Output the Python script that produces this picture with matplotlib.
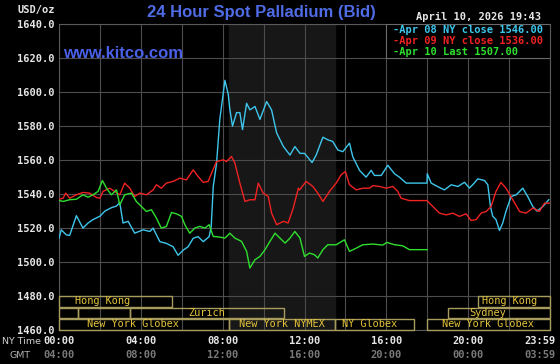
import matplotlib.pyplot as plt
from matplotlib.patches import Rectangle
from matplotlib.transforms import blended_transform_factory

# NY time (hours) and bid price
apr08_hours = [0, 0.11, 0.36, 0.52, 0.85, 1.17, 1.42, 1.66, 2.0, 2.24, 2.56, 2.81, 2.97, 3.13, 3.38, 3.7,
               4.11, 4.44, 4.6, 4.93, 5.25, 5.58, 5.82, 6.07, 6.31, 6.56, 6.8, 7.05, 7.34, 7.44, 7.54,
               7.7, 7.86, 8.11, 8.27, 8.35, 8.48, 8.68, 8.84, 8.97, 9.17, 9.33, 9.58, 9.82, 10.15,
               10.39, 10.64, 10.97, 11.29, 11.53, 11.78, 12.0, 12.37, 12.57, 12.9, 13.14, 13.38,
               13.63, 13.87, 14.2, 14.36, 14.69, 15.01, 15.26, 15.42, 15.75, 16.07, 16.4, 16.64,
               16.97, 17.99, 18.0, 18.19, 18.5, 18.84, 19.17, 19.5, 19.82, 20.06, 20.22, 20.47,
               20.8, 20.96, 21.09, 21.2, 21.36, 21.53, 21.69, 21.85, 22.1, 22.35, 22.67, 22.91,
               23.16, 23.36, 23.65, 23.94]
apr08_price = [1514, 1519, 1516, 1515.7, 1527.3, 1520, 1523, 1525, 1527, 1530, 1532, 1533, 1535, 1523,
               1524, 1517, 1519, 1518, 1520, 1512, 1511, 1509, 1504, 1507, 1509, 1514, 1515, 1512,
               1515, 1521, 1544.5, 1558, 1584, 1607, 1599, 1590, 1580, 1588, 1588, 1578, 1593.5,
               1589.6, 1591.6, 1584, 1594.5, 1589.6, 1576, 1568, 1563, 1568, 1564, 1564, 1558.6,
               1563, 1573.5, 1572, 1571, 1566, 1565, 1570, 1562, 1554, 1550, 1554, 1551, 1551, 1557,
               1552, 1550, 1546.5, 1546.5, 1552, 1546.5, 1544.5, 1542.5, 1545.5, 1544.5, 1547,
               1543.6, 1545.5, 1549, 1548, 1545.5, 1532.7, 1527, 1525, 1518.6, 1523, 1530, 1538.6,
               1539.6, 1543.5, 1538.6, 1532.7, 1530, 1532.7, 1536.7]

apr09_hours = [0, 0.2, 0.33, 0.52, 0.85, 1.17, 1.5, 1.83, 2.0, 2.15, 2.48, 2.72, 2.97, 3.21, 3.46, 3.7,
               3.95, 4.27, 4.6, 4.76, 5.0, 5.25, 5.58, 5.9, 6.23, 6.56, 6.8, 7.05, 7.29, 7.46, 7.7,
               8.03, 8.19, 8.43, 8.6, 8.84, 9.09, 9.33, 9.58, 9.74, 9.98, 10.23, 10.39, 10.64, 10.97,
               11.2, 11.45, 11.7, 11.76, 12.08, 12.41, 12.65, 12.9, 13.22, 13.55, 13.79, 14.0, 14.2,
               14.53, 14.85, 15.18, 15.34, 15.67, 15.99, 16.32, 16.56, 16.72, 17.13, 17.99, 18.19,
               18.6, 18.92, 19.25, 19.57, 19.9, 20.14, 20.39, 20.63, 20.88, 21.12, 21.36, 21.6,
               21.85, 22.18, 22.51, 22.83, 23.16, 23.48, 23.73, 23.97]
apr09_price = [1537, 1537.6, 1540.6, 1537.6, 1539.6, 1541, 1540.6, 1538, 1537.6, 1541.6, 1543.5, 1541.6,
               1539.6, 1546.5, 1543.5, 1538.6, 1540.6, 1539.6, 1542.5, 1545.5, 1543.5, 1546.5,
               1547.5, 1549.4, 1548.4, 1554.3, 1550.4, 1546.9, 1547.5, 1552.4, 1559.2, 1560.2,
               1559.2, 1562.2, 1558.2, 1546.5, 1535.7, 1536.7, 1536.7, 1546.5, 1540.6, 1538.6,
               1528.8, 1522, 1524, 1523, 1531.8, 1543.5, 1542.5, 1547.5, 1544.5, 1540.6, 1535.7,
               1541.6, 1546.5, 1551.4, 1553.3, 1545.5, 1542.5, 1543.5, 1543.5, 1545, 1544.5, 1543.5,
               1544.5, 1541.6, 1537.6, 1536.2, 1536.2, 1533.7, 1528.8, 1527.8, 1528.8, 1526.9,
               1528.4, 1524.5, 1525, 1528.8, 1529.8, 1532.7, 1541.6, 1546.9, 1543.5, 1536.7, 1529.8,
               1528.8, 1531.8, 1529.8, 1534.7, 1534.7]

apr10_hours = [0, 0.2, 0.52, 0.85, 1.17, 1.42, 1.66, 1.91, 2.12, 2.32, 2.56, 2.81, 2.97, 3.21, 3.54,
               3.78, 4.03, 4.27, 4.52, 4.76, 5.0, 5.25, 5.5, 5.74, 5.99, 6.15, 6.39, 6.64, 6.88, 7.13,
               7.34, 7.54, 7.86, 8.11, 8.35, 8.6, 8.92, 9.17, 9.33, 9.58, 9.82, 10.07, 10.31, 10.56,
               10.8, 11.05, 11.29, 11.53, 11.78, 12.0, 12.24, 12.49, 12.65, 12.9, 13.14, 13.55, 13.95,
               14.2, 14.53, 14.85, 15.34, 15.83, 16.02, 16.4, 16.8, 17.13, 17.99]
apr10_price = [1536.3, 1535.7, 1536.7, 1537, 1539.6, 1538.2, 1539.6, 1541.6, 1548, 1543.5, 1539.6,
               1542.5, 1533.7, 1539.6, 1540.6, 1535.7, 1532.7, 1529.8, 1530.8, 1525.9, 1520, 1521,
               1529.2, 1528.4, 1526.9, 1522, 1517, 1520, 1521, 1520, 1522, 1515.1, 1514.7, 1514.1,
               1517, 1514.1, 1512.2, 1506.3, 1496.5, 1501.4, 1503.3, 1507.3, 1512.2, 1517, 1514.1,
               1511.2, 1514.1, 1518, 1514.1, 1503.3, 1505.3, 1504.3, 1502.4, 1507.3, 1510.2, 1510.2,
               1513.1, 1506.3, 1508.2, 1510.2, 1510.6, 1510, 1511.6, 1510.2, 1509.6, 1507.3, 1507.3]

legend_labels = ['-Apr 08 NY close 1546.00', '-Apr 09 NY close 1536.00', '-Apr 10 Last 1507.00']
line_colors = ['#3ec6ec', '#f02222', '#2ee02e']

y_ticks = [1460, 1480, 1500, 1520, 1540, 1560, 1580, 1600, 1620, 1640]
x_tick_hours = [0, 4, 8, 12, 16, 20, 23.5]
ny_labels = ['00:00', '04:00', '08:00', '12:00', '16:00', '20:00', '23:59']
gmt_labels = ['04:00', '08:00', '12:00', '16:00', '20:00', '00:00', '03:59']

# trading sessions: name, start, end, row, label position
session_names = ['Hong Kong', '', '', 'Zurich', 'New York Globex', 'New York NYMEX', 'NY Globex',
                 'Hong Kong', 'Sydney', 'New York Globex']
session_start = [0, 0, 0.95, 3.47, 0, 8.33, 13.5, 20.5, 19, 18]
session_end = [5.5, 0.95, 3.47, 11, 8.33, 13.5, 17.33, 24, 24, 24]
session_row = [0, 1, 1, 1, 2, 2, 2, 0, 1, 2]
session_label_x = [2.12, 0, 0, 7.2, 3.63, 10.9, 15.18, 22.04, 20.97, 20.97]
nymex_open, nymex_close = 8.33, 13.5

mono = 'DejaVu Sans Mono'

fig = plt.figure(figsize=(5.6, 3.64), dpi=100, facecolor='black')
ax = fig.add_axes([59 / 560, 34 / 364, 491 / 560, 305.7 / 364])
ax.set_facecolor('black')
ax.set_xlim(0, 24)
ax.set_ylim(1460, 1640)

ax.axvspan(nymex_open, nymex_close, color='#171717', zorder=0)
ax.set_xticks(range(0, 25, 2))
ax.set_yticks(y_ticks)
ax.grid(True, color='#4c4c4c', linewidth=0.8, zorder=1)
ax.set_axisbelow(True)
for sp in ax.spines.values():
    sp.set_color('#5a5a5a')
    sp.set_linewidth(0.8)

ax.set_yticklabels(['%.1f' % v for v in y_ticks], family=mono, fontsize=7.5, fontweight='bold', color='#e6e6e6')
ax.set_xticklabels([])
ax.tick_params(length=0, pad=3)

ax.plot(apr08_hours, apr08_price, color=line_colors[0], linewidth=1.0, zorder=3)
ax.plot(apr09_hours, apr09_price, color=line_colors[1], linewidth=1.0, zorder=3)
ax.plot(apr10_hours, apr10_price, color=line_colors[2], linewidth=1.0, zorder=4)

# session bars along the bottom
tr = blended_transform_factory(ax.transData, ax.transAxes)
row_bottom = [0.0762, 0.0383, 0.0007]
row_height = 0.035
for name, s, e, r, lx in zip(session_names, session_start, session_end, session_row, session_label_x):
    ax.add_patch(Rectangle((s, row_bottom[r]), e - s, row_height, transform=tr, fill=False,
                           edgecolor='#a89c5c', linewidth=1.0, zorder=5, clip_on=False))
    if name:
        ax.text(lx, row_bottom[r] + row_height / 2, name, transform=tr, ha='center', va='center',
                family=mono, fontsize=7.4, color='#e4c43c', zorder=6)

# legend box in the top right cell block
ax.add_patch(Rectangle((16, 1620), 8, 20, facecolor='black', edgecolor='#6a6a6a', linewidth=0.8, zorder=6))
for i, (lab, col) in enumerate(zip(legend_labels, line_colors)):
    ax.text(0.680, 0.980 - i * 0.0355, lab, transform=ax.transAxes, ha='left', va='center',
            family=mono, fontsize=7.5, fontweight='bold', color=col, zorder=7)

# time axis labels
for h, ny, gmt in zip(x_tick_hours, ny_labels, gmt_labels):
    ax.text(h, -0.036, ny, transform=tr, ha='center', va='center', family=mono, fontsize=7.5,
            fontweight='bold', color='#e6e6e6')
    ax.text(h, -0.082, gmt, transform=tr, ha='center', va='center', family=mono, fontsize=7.5,
            fontweight='bold', color='#7a7a7a')
fig.text(2 / 560, 1 - 341 / 364, 'NY Time', ha='left', va='center', fontsize=6.8, color='#cfcfcf')
fig.text(10 / 560, 1 - 355 / 364, 'GMT', ha='left', va='center', fontsize=6.8, color='#b0b0b0')

fig.text(36 / 560, 1 - 10 / 364, 'USD/oz', ha='center', va='center', family=mono, fontsize=7.5,
         fontweight='bold', color='#e6e6e6')
fig.text(261 / 560, 1 - 13 / 364, '24 Hour Spot Palladium (Bid)', ha='center', va='center',
         family='Liberation Sans', fontsize=12, fontweight='bold', color='#4f6ce6')
fig.text(479 / 560, 1 - 17 / 364, 'April 10, 2026 19:43', ha='center', va='center', family=mono,
         fontsize=7.5, fontweight='bold', color='#e6e6e6')
ax.text(0.008, 0.905, 'www.kitco.com', transform=ax.transAxes, ha='left', va='center',
        family='Liberation Sans', fontsize=12, fontweight='bold', color='#4a60e6')

fig.savefig('out.png', dpi=100, facecolor='black')
